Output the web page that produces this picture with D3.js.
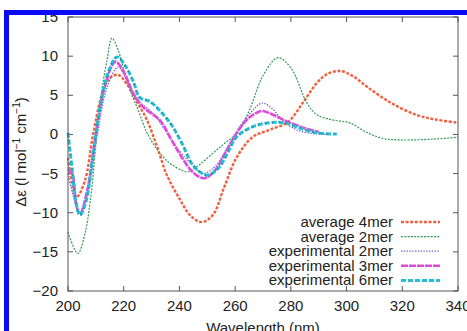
<!DOCTYPE html>
<html>
<head>
<meta charset="utf-8">
<script src="https://cdn.jsdelivr.net/npm/d3@7"></script>
<style>
  body { margin: 0; background: #fff; }
  svg { display: block; font-family: "Liberation Sans", Arial, sans-serif; }
</style>
</head>
<body>
<div id="chart"></div>
<script>
// data: [wavelength nm, delta epsilon]
const avg4mer = [[200, -3], [203, -8], [206, -6], [209, 0], [212.5, 5.5], [215, 7.2], [218, 7.6], [221, 6.5],
  [225, 4], [228.4, 1.8], [232, -1.6], [235.5, -5.2], [240, -8.2], [244, -10.4], [248, -11.2], [252, -10.3],
  [256, -6.8], [260.6, -2.9], [266.4, -0.3], [272.5, 0.6], [279, 1.6], [284.4, 4.1], [289.4, 6.6],
  [293, 7.7], [297.6, 8.1], [302, 7.5], [307.3, 6.1], [315.6, 4.1], [325, 2.5], [332, 1.9], [340, 1.5]];
const avg2mer = [[200, -12.5], [203.5, -15.2], [206, -12.8], [208, -8.5], [211.5, 4], [214, 9.5],
  [215.8, 12.3], [218, 10.8], [220.5, 7.6], [223, 5], [225, 3.3], [228.4, 0.2], [233, -2.4],
  [237, -3.8], [241, -4.6], [243, -4.8], [246, -4.2], [252, -2.4], [256, -1.2], [260.7, 0.2], [265, 3],
  [270, 7.5], [275.4, 9.8], [280, 8.5], [285.8, 4], [289.4, 2.5], [295, 1.85], [301, 1.5], [307, 0.3],
  [313, -0.5], [319, -0.7], [331, -0.6], [340, -0.35]];
const exp2mer = [[200, -5], [202, -8], [204.3, -10], [207, -7.5], [210.4, -0.3], [214, 6], [218, 8.6],
  [221, 7], [225, 4.4], [230.5, 2.7], [234, 1], [238, -1.2], [243.8, -3.6], [248.5, -5], [253, -4],
  [258, -1.2], [262, 1.2], [266.4, 3.1], [269.6, 4], [273, 3.4], [277, 1.8], [282, 0.6], [289.4, 0.05],
  [294, 0]];
const exp3mer = [[200, -4.5], [201.4, -4.9], [203, -9], [204.3, -10.2], [207, -7], [210, 0], [213.5, 6.5],
  [217, 9.3], [220, 8], [223.5, 5.2], [227, 3.5], [233, 1.8], [237, -0.6], [241, -3], [245, -4.9],
  [249, -5.6], [253, -4.5], [257, -2], [260.6, 0.2], [264, 1.8], [266.4, 2.5], [269.6, 3], [273, 2.6],
  [279, 1.6], [285, 0.8], [290, 0.3]];
const exp6mer = [[200, 0.2], [201.5, -4.5], [203, -9], [204.3, -10.3], [206.5, -8.5], [209, -2.5],
  [211.5, 3.5], [214.5, 8], [217.6, 9.9], [220.5, 8.8], [223.4, 6.8], [225.8, 4.7], [229.4, 4.2],
  [236.6, 1.5], [241, -1.2], [245, -4], [249.9, -5.2], [254, -4.3], [257.5, -2.2], [260.6, -0.3],
  [266.4, 1], [272.5, 1.5], [277.3, 1.5], [283.3, 0.8], [289.4, 0.2], [296.5, 0.05]];

const seriesNames = ["average 4mer", "average 2mer", "experimental 2mer", "experimental 3mer", "experimental 6mer"];
const seriesData = [avg4mer, avg2mer, exp2mer, exp3mer, exp6mer];
const xTicks = [200, 220, 240, 260, 280, 300, 320, 340];
const yTicks = [-20, -15, -10, -5, 0, 5, 10, 15];

const styles = [
  { color: "#f0603e", width: 2.4, dash: "3,1.6" },
  { color: "#2f9a55", width: 1.2, dash: "2,1.3" },
  { color: "#7362c9", width: 1.3, dash: "1.4,1.4" },
  { color: "#e04ad8", width: 2.6, dash: "7,1" },
  { color: "#22bfd6", width: 3, dash: "5,2" }
];

const W = 467, H = 331;
const mLeft = 68, mRight = 458, mTop = 17, mBottom = 291;

const svg = d3.select("#chart").append("svg")
    .attr("width", W)
    .attr("height", H);

svg.append("rect").attr("width", W).attr("height", H).attr("fill", "#fff");

const x = d3.scaleLinear().domain([200, 340]).range([mLeft, mRight]);
const y = d3.scaleLinear().domain([-20, 15]).range([mBottom, mTop]);

// ticks, inward and mirrored
const tick = 5;
const axisG = svg.append("g").attr("stroke", "#555").attr("stroke-width", 1);
xTicks.forEach(t => {
    axisG.append("line").attr("x1", x(t)).attr("x2", x(t)).attr("y1", mBottom).attr("y2", mBottom - tick);
    axisG.append("line").attr("x1", x(t)).attr("x2", x(t)).attr("y1", mTop).attr("y2", mTop + tick);
});
yTicks.forEach(t => {
    axisG.append("line").attr("x1", mLeft).attr("x2", mLeft + tick).attr("y1", y(t)).attr("y2", y(t));
    axisG.append("line").attr("x1", mRight).attr("x2", mRight - tick).attr("y1", y(t)).attr("y2", y(t));
});

svg.append("g").selectAll("text")
    .data(xTicks)
    .enter()
    .append("text")
    .attr("x", d => x(d))
    .attr("y", mBottom + 20)
    .attr("text-anchor", "middle")
    .attr("font-size", 15)
    .attr("fill", "#222")
    .text(d => d);

svg.append("g").selectAll("text")
    .data(yTicks)
    .enter()
    .append("text")
    .attr("x", mLeft - 10)
    .attr("y", d => y(d) + 5)
    .attr("text-anchor", "end")
    .attr("font-size", 15)
    .attr("fill", "#222")
    .text(d => d3.format("d")(d).replace("-", "\u2212"));

// curves
const line = d3.line()
    .x(d => x(d[0]))
    .y(d => y(d[1]))
    .curve(d3.curveCatmullRom.alpha(0.5));

const plot = svg.append("g");
seriesData.forEach((s, i) => {
    plot.append("path")
        .datum(s)
        .attr("fill", "none")
        .attr("stroke", styles[i].color)
        .attr("stroke-width", styles[i].width)
        .attr("stroke-dasharray", styles[i].dash)
        .attr("d", line);
});
// darker dotted core on the 6mer line
plot.append("path")
    .datum(exp6mer)
    .attr("fill", "none")
    .attr("stroke", "#2a8fa8")
    .attr("stroke-width", 1.6)
    .attr("stroke-dasharray", "1.5,5.5")
    .attr("d", line);

// plot border
svg.append("rect")
    .attr("x", mLeft).attr("y", mTop)
    .attr("width", mRight - mLeft).attr("height", mBottom - mTop)
    .attr("fill", "none").attr("stroke", "#555").attr("stroke-width", 1);

// legend
const legend = svg.append("g");
seriesNames.forEach((name, i) => {
    const ly = 222 + i * 14.6;
    legend.append("text")
        .attr("x", 393)
        .attr("y", ly + 5)
        .attr("text-anchor", "end")
        .attr("font-size", 15)
        .attr("fill", "#222")
        .text(name);
    legend.append("line")
        .attr("x1", 401).attr("x2", 440)
        .attr("y1", ly).attr("y2", ly)
        .attr("stroke", styles[i].color)
        .attr("stroke-width", styles[i].width)
        .attr("stroke-dasharray", styles[i].dash);
});

// axis titles
svg.append("text")
    .attr("x", 263)
    .attr("y", 333)
    .attr("text-anchor", "middle")
    .attr("font-size", 15)
    .attr("fill", "#222")
    .text("Wavelength (nm)");

const yt = svg.append("text")
    .attr("transform", "translate(26,152) rotate(-90)")
    .attr("text-anchor", "middle")
    .attr("font-size", 15)
    .attr("fill", "#222");
yt.append("tspan").text("\u0394\u03b5 (l mol");
yt.append("tspan").attr("dy", -6).attr("font-size", 10).text("\u22121");
yt.append("tspan").attr("dy", 6).text(" cm");
yt.append("tspan").attr("dy", -6).attr("font-size", 10).text("\u22121");
yt.append("tspan").attr("dy", 6).text(")");

// blue frame
svg.append("rect")
    .attr("x", 6.5).attr("y", 12.5)
    .attr("width", W).attr("height", H)
    .attr("fill", "none")
    .attr("stroke", "#0a0af5")
    .attr("stroke-width", 5);
</script>
</body>
</html>
